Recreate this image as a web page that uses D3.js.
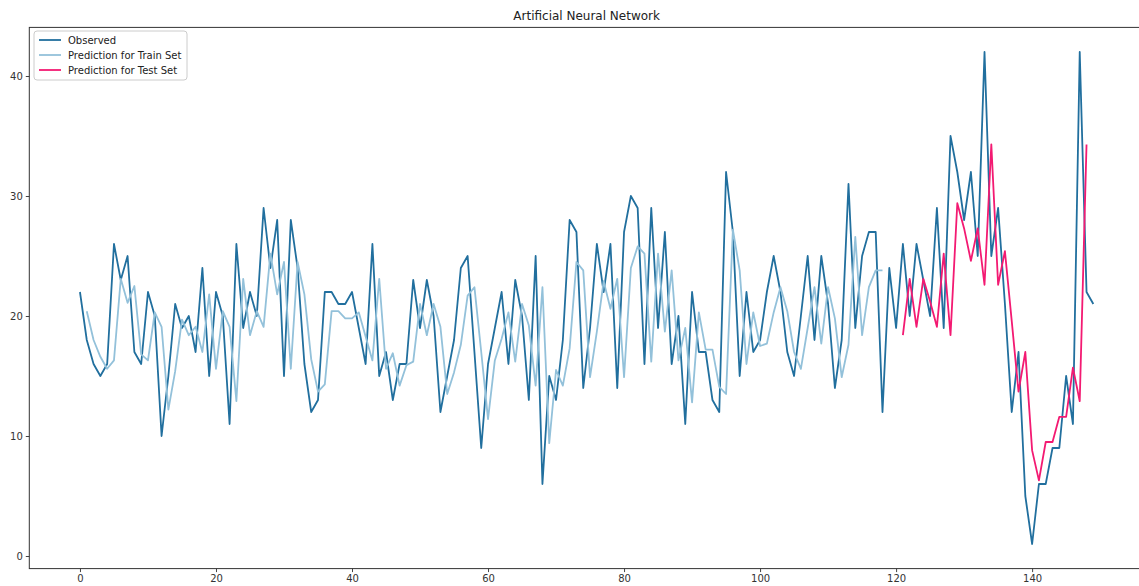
<!DOCTYPE html>
<html>
<head>
<meta charset="utf-8">
<script src="https://cdn.jsdelivr.net/npm/d3@7"></script>
<style>
  body { margin: 0; background: #fff; }
  svg { font-family: "DejaVu Sans", sans-serif; }
</style>
</head>
<body>
<svg id="chart"></svg>
<script>
// observed series, index 0..149
var observed = [22, 18, 16, 15, 16, 26, 23, 25, 17, 16,
    22, 20, 10, 15, 21, 19, 20, 17, 24, 15,
    22, 20, 11, 26, 19, 22, 20, 29, 24, 28,
    15, 28, 24, 16, 12, 13, 22, 22, 21, 21,
    22, 19, 16, 26, 15, 17, 13, 16, 16, 23,
    19, 23, 20, 12, 15, 18, 24, 25, 17, 9,
    16, 19, 22, 16, 23, 20, 13, 25, 6, 15,
    13, 18, 28, 27, 14, 19, 26, 22, 26, 14,
    27, 30, 29, 16, 29, 19, 27, 16, 20, 11,
    22, 17, 17, 13, 12, 32, 27, 15, 22, 17,
    18, 22, 25, 22, 17, 15, 20, 25, 18, 25,
    21, 14, 18, 31, 19, 25, 27, 27, 12, 24,
    19, 26, 20, 26, 23, 20, 29, 19, 35, 32,
    28, 32, 25, 42, 25, 29, 21, 12, 17, 5,
    1, 6, 6, 9, 9, 15, 11, 42, 22, 21];

// train predictions start at index 1
var trainStart = 1;
var trainPred = [20.4, 18.0, 16.6, 15.6, 16.3, 23.1, 21.1, 22.5, 16.8, 16.3,
    20.3, 19.1, 12.2, 15.4, 19.7, 18.4, 19.1, 17.0, 21.8, 15.6,
    20.4, 19.1, 12.9, 23.1, 18.4, 20.4, 19.1, 25.2, 21.8, 24.5,
    15.6, 24.5, 21.8, 16.4, 13.7, 14.3, 20.4, 20.4, 19.8, 19.8,
    20.3, 18.3, 16.3, 23.1, 15.6, 16.9, 14.2, 15.9, 16.2, 21.0,
    18.4, 21.0, 19.1, 13.5, 15.3, 17.6, 21.7, 22.4, 17.0, 11.4,
    16.3, 18.1, 20.3, 16.2, 21.0, 19.2, 14.2, 22.4, 9.4, 15.5,
    14.2, 17.3, 24.5, 23.8, 14.9, 18.7, 22.9, 20.6, 23.1, 14.9,
    24.0, 25.8, 25.2, 16.2, 25.2, 18.7, 23.8, 16.3, 19.0, 12.8,
    20.3, 17.2, 17.2, 14.1, 13.5, 27.2, 23.8, 16.0, 20.3, 17.5,
    17.7, 20.3, 22.4, 20.4, 17.0, 15.6, 19.0, 22.4, 17.7, 22.4,
    19.8, 14.9, 17.6, 26.6, 18.4, 22.4, 23.8, 23.8];

// test predictions start at index 121
var testStart = 121;
var testPred = [18.4, 23.1, 19.1, 23.1, 21.2, 19.1, 25.2, 18.4, 29.4, 27.3,
    24.6, 27.3, 22.6, 34.3, 22.6, 25.4, 19.6, 13.7, 17.0, 8.8,
    6.3, 9.5, 9.5, 11.6, 11.6, 15.7, 12.9, 34.3];

var xTicks = [0, 20, 40, 60, 80, 100, 120, 140];
var yTicks = [0, 10, 20, 30, 40];
var seriesNames = ["Observed", "Prediction for Train Set", "Prediction for Test Set"];
var seriesColors = ["#216f9e", "#93c1da", "#f31a72"];

var width = 1139, height = 586;
var pLeft = 29.3, pRight = 1144, pTop = 27.4, pBottom = 568.6;

var svg = d3.select("#chart").attr("width", width).attr("height", height);

var toPoints = function(arr, start){
    return arr.map(function(v, i){ return {x: i + start, y: v}; });
};
var lines = [toPoints(observed, 0), toPoints(trainPred, trainStart), toPoints(testPred, testStart)];

// matplotlib style 5% margins
var xMax = observed.length - 1;
var yMin = d3.min(observed), yMax = d3.max(observed);
var x = d3.scaleLinear()
    .domain([-0.05 * xMax, xMax * 1.05])
    .range([pLeft, pRight]);
var y = d3.scaleLinear()
    .domain([yMin - 0.05 * (yMax - yMin), yMax + 0.05 * (yMax - yMin)])
    .range([pBottom, pTop]);

var line = d3.line()
    .x(function(d){ return x(d.x); })
    .y(function(d){ return y(d.y); });

svg.append("clipPath").attr("id", "plotclip")
    .append("rect").attr("x", pLeft).attr("y", pTop)
    .attr("width", pRight - pLeft).attr("height", pBottom - pTop);

var g = svg.append("g").attr("clip-path", "url(#plotclip)");
lines.forEach(function(pts, i){
    g.append("path")
        .attr("d", line(pts))
        .attr("fill", "none")
        .attr("stroke", seriesColors[i])
        .attr("stroke-width", 1.8)
        .attr("stroke-linejoin", "round");
});

// axes
var xAxis = svg.append("g")
    .attr("transform", "translate(0," + pBottom + ")")
    .call(d3.axisBottom(x).tickValues(xTicks).tickSize(3.5).tickPadding(3).tickSizeOuter(0));
var yAxis = svg.append("g")
    .attr("transform", "translate(" + pLeft + ",0)")
    .call(d3.axisLeft(y).tickValues(yTicks).tickSize(3.5).tickPadding(3).tickSizeOuter(0));
[xAxis, yAxis].forEach(function(a){
    a.select(".domain").remove();
    a.selectAll("line").attr("stroke", "#444");
    a.selectAll("text").attr("fill", "#333").style("font-size", "10px")
        .style("font-family", "DejaVu Sans, sans-serif");
});

// frame
svg.append("rect")
    .attr("x", pLeft).attr("y", pTop)
    .attr("width", pRight - pLeft).attr("height", pBottom - pTop)
    .attr("fill", "none").attr("stroke", "#333").attr("stroke-width", 1);

// title
svg.append("text")
    .attr("x", (pLeft + pRight) / 2)
    .attr("y", 20)
    .attr("text-anchor", "middle")
    .style("font-size", "12px")
    .attr("fill", "#222")
    .text("Artificial Neural Network");

// legend
var legend = svg.append("g").attr("transform", "translate(34,31)");
legend.append("rect")
    .attr("width", 153).attr("height", 49)
    .attr("rx", 3)
    .attr("fill", "#fff").attr("fill-opacity", 0.8)
    .attr("stroke", "#ccc");
seriesNames.forEach(function(name, i){
    var row = legend.append("g").attr("transform", "translate(5," + (9 + i * 15) + ")");
    row.append("line")
        .attr("x1", 0).attr("x2", 22)
        .attr("stroke", seriesColors[i]).attr("stroke-width", 1.8);
    row.append("text")
        .attr("x", 29).attr("y", 3.5)
        .style("font-size", "10px")
        .attr("fill", "#222")
        .text(name);
});
</script>
</body>
</html>
